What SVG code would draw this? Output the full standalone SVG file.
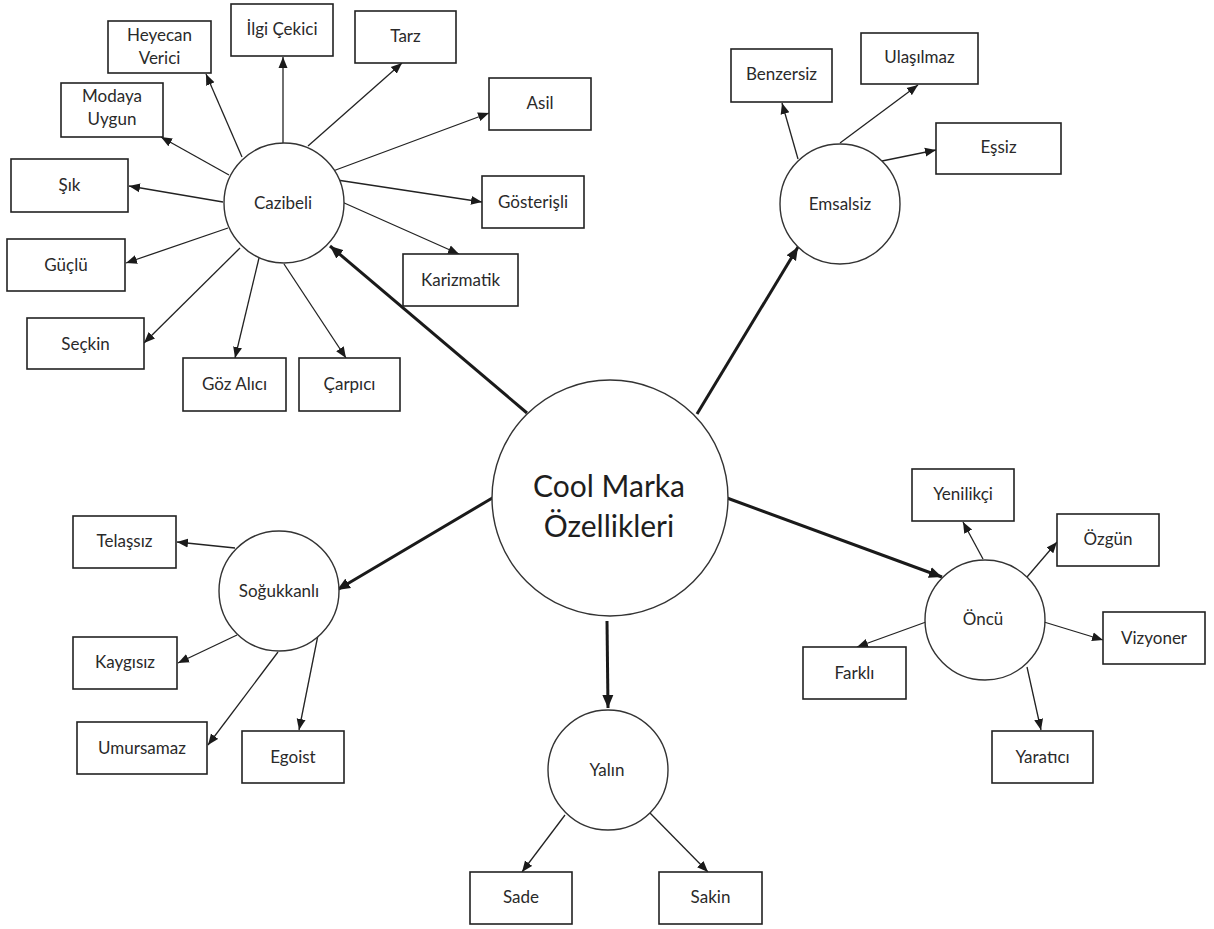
<svg xmlns="http://www.w3.org/2000/svg" width="1214" height="929" viewBox="0 0 1214 929">
<style>
.bg{fill:#ffffff}
.box{fill:#ffffff;stroke:#222;stroke-width:1.6}
.circ{fill:#ffffff;stroke:#333;stroke-width:1.4}
.lbl{font-family:Lato,"Open Sans",sans-serif;font-size:17px;fill:#2a2a2a;text-anchor:middle}
.main{font-family:Lato,"Open Sans",sans-serif;font-size:30px;fill:#1e1e1e;text-anchor:middle}
.thin{stroke:#222;stroke-width:1.3;fill:none;marker-end:url(#ah)}
.thick{stroke:#1a1a1a;stroke-width:3;fill:none;marker-end:url(#ahb)}
</style>
<defs>
<marker id="ah" markerUnits="userSpaceOnUse" markerWidth="12" markerHeight="10" refX="11" refY="5" orient="auto">
<path d="M0,0.5 L11,5 L0,9.5 z" fill="#1a1a1a"/>
</marker>
<marker id="ahb" markerUnits="userSpaceOnUse" markerWidth="14" markerHeight="12" refX="13" refY="6" orient="auto">
<path d="M0,0.5 L13,6 L0,11.5 z" fill="#1a1a1a"/>
</marker>
</defs>
<rect class="bg" x="0" y="0" width="1214" height="929"/>
<g id="connectors">
<line class="thin" x1="283" y1="143" x2="283" y2="57"/>
<line class="thin" x1="308" y1="146" x2="402" y2="63"/>
<line class="thin" x1="242" y1="157" x2="206" y2="74"/>
<line class="thin" x1="229" y1="175" x2="161" y2="137"/>
<line class="thin" x1="223" y1="202" x2="129" y2="186"/>
<line class="thin" x1="333" y1="171" x2="489" y2="113"/>
<line class="thin" x1="337" y1="180" x2="482" y2="202"/>
<line class="thin" x1="342" y1="202" x2="459" y2="254"/>
<line class="thin" x1="228" y1="228" x2="126" y2="263"/>
<line class="thin" x1="240" y1="248" x2="144" y2="343"/>
<line class="thin" x1="259" y1="258" x2="235" y2="358"/>
<line class="thin" x1="284" y1="264" x2="346" y2="358"/>
<line class="thin" x1="798" y1="159" x2="782" y2="103"/>
<line class="thin" x1="840" y1="143" x2="918" y2="85"/>
<line class="thin" x1="882" y1="161" x2="936" y2="150"/>
<line class="thin" x1="235" y1="548" x2="177" y2="542"/>
<line class="thin" x1="237" y1="635" x2="178" y2="663"/>
<line class="thin" x1="278" y1="652" x2="208" y2="745"/>
<line class="thin" x1="318" y1="635" x2="299" y2="730"/>
<line class="thin" x1="565" y1="815" x2="522" y2="872"/>
<line class="thin" x1="650" y1="813" x2="708" y2="872"/>
<line class="thin" x1="983" y1="559" x2="963" y2="522"/>
<line class="thin" x1="1027" y1="577" x2="1057" y2="542"/>
<line class="thin" x1="1044" y1="622" x2="1103" y2="640"/>
<line class="thin" x1="926" y1="622" x2="857" y2="647"/>
<line class="thin" x1="1027" y1="667" x2="1041" y2="730"/>
<line class="thick" x1="527" y1="413" x2="330" y2="246"/>
<line class="thick" x1="697" y1="414" x2="798" y2="247"/>
<line class="thick" x1="494" y1="497" x2="337" y2="590"/>
<line class="thick" x1="727" y1="498" x2="942" y2="577"/>
<line class="thick" x1="607" y1="621" x2="608" y2="708"/>
</g>
<g id="main"><circle class="circ" cx="610" cy="498" r="118"/><text class="main" x="609" y="497">Cool Marka</text><text class="main" x="609" y="537">Özellikleri</text></g>
<g id="cazibeli"><circle class="circ" cx="284" cy="203" r="60"/><text class="lbl" x="283" y="209">Cazibeli</text></g>
<g id="emsalsiz"><circle class="circ" cx="840" cy="204" r="60"/><text class="lbl" x="840" y="210">Emsalsiz</text></g>
<g id="sogukkanli"><circle class="circ" cx="279" cy="591" r="60"/><text class="lbl" x="279" y="597">Soğukkanlı</text></g>
<g id="yalin"><circle class="circ" cx="608" cy="770" r="60"/><text class="lbl" x="607" y="776">Yalın</text></g>
<g id="oncu"><circle class="circ" cx="985" cy="620" r="60"/><text class="lbl" x="983" y="625">Öncü</text></g>
<g id="heyecan"><rect class="box" x="108" y="21" width="103" height="52"/><text class="lbl" x="159.5" y="41">Heyecan</text><text class="lbl" x="159.5" y="64">Verici</text></g>
<g id="ilgi"><rect class="box" x="231" y="4" width="102" height="52"/><text class="lbl" x="282" y="35">İlgi Çekici</text></g>
<g id="tarz"><rect class="box" x="355" y="11" width="101" height="52"/><text class="lbl" x="405.5" y="42">Tarz</text></g>
<g id="modaya"><rect class="box" x="61" y="83" width="102" height="54"/><text class="lbl" x="112" y="102">Modaya</text><text class="lbl" x="112" y="125">Uygun</text></g>
<g id="sik"><rect class="box" x="11" y="159" width="117" height="53"/><text class="lbl" x="69.5" y="191">Şık</text></g>
<g id="guclu"><rect class="box" x="7" y="239" width="118" height="52"/><text class="lbl" x="66" y="271">Güçlü</text></g>
<g id="seckin"><rect class="box" x="27" y="318" width="117" height="51"/><text class="lbl" x="85.5" y="350">Seçkin</text></g>
<g id="goz"><rect class="box" x="183" y="358" width="103" height="53"/><text class="lbl" x="234.5" y="390">Göz Alıcı</text></g>
<g id="carpici"><rect class="box" x="299" y="358" width="101" height="53"/><text class="lbl" x="349.5" y="390">Çarpıcı</text></g>
<g id="karizmatik"><rect class="box" x="403" y="254" width="115" height="52"/><text class="lbl" x="460.5" y="286">Karizmatik</text></g>
<g id="gosterisli"><rect class="box" x="482" y="176" width="102" height="52"/><text class="lbl" x="533" y="208">Gösterişli</text></g>
<g id="asil"><rect class="box" x="489" y="78" width="102" height="52"/><text class="lbl" x="540" y="109">Asil</text></g>
<g id="benzersiz"><rect class="box" x="731" y="49" width="101" height="53"/><text class="lbl" x="781.5" y="80">Benzersiz</text></g>
<g id="ulasilmaz"><rect class="box" x="861" y="33" width="117" height="51"/><text class="lbl" x="919.5" y="63">Ulaşılmaz</text></g>
<g id="essiz"><rect class="box" x="936" y="123" width="125" height="51"/><text class="lbl" x="998.5" y="153">Eşsiz</text></g>
<g id="telassiz"><rect class="box" x="73" y="516" width="103" height="52"/><text class="lbl" x="124.5" y="547">Telaşsız</text></g>
<g id="kaygisiz"><rect class="box" x="73" y="637" width="104" height="52"/><text class="lbl" x="125" y="668">Kaygısız</text></g>
<g id="umursamaz"><rect class="box" x="77" y="722" width="130" height="52"/><text class="lbl" x="142" y="754">Umursamaz</text></g>
<g id="egoist"><rect class="box" x="242" y="731" width="102" height="52"/><text class="lbl" x="293" y="763">Egoist</text></g>
<g id="sade"><rect class="box" x="470" y="872" width="102" height="52"/><text class="lbl" x="521" y="903">Sade</text></g>
<g id="sakin"><rect class="box" x="659" y="872" width="103" height="52"/><text class="lbl" x="710.5" y="903">Sakin</text></g>
<g id="yenilikci"><rect class="box" x="912" y="469" width="102" height="52"/><text class="lbl" x="963" y="500">Yenilikçi</text></g>
<g id="ozgun"><rect class="box" x="1057" y="514" width="102" height="52"/><text class="lbl" x="1108" y="545">Özgün</text></g>
<g id="vizyoner"><rect class="box" x="1103" y="612" width="102" height="52"/><text class="lbl" x="1154" y="644">Vizyoner</text></g>
<g id="farkli"><rect class="box" x="803" y="647" width="103" height="52"/><text class="lbl" x="854.5" y="679">Farklı</text></g>
<g id="yaratici"><rect class="box" x="992" y="731" width="101" height="52"/><text class="lbl" x="1042.5" y="763">Yaratıcı</text></g>
</svg>
